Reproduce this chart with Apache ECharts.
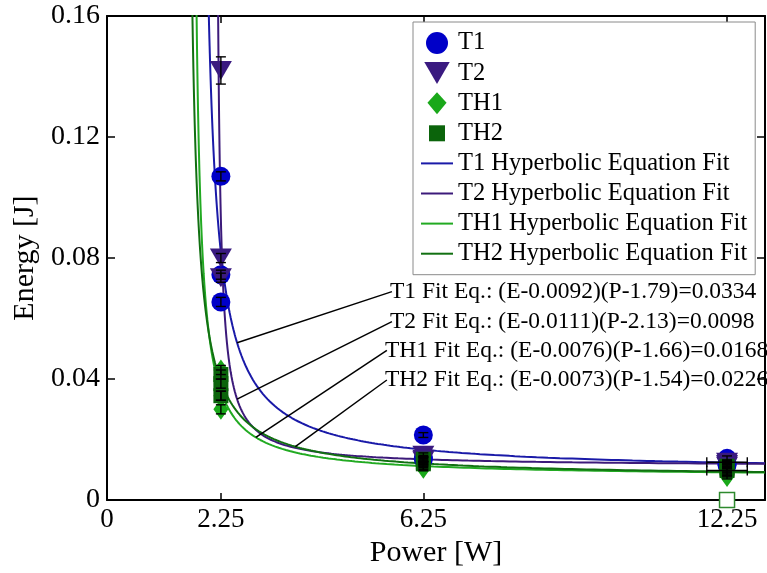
<!DOCTYPE html>
<html>
<head>
<meta charset="utf-8">
<script src="https://cdn.jsdelivr.net/npm/echarts@6/dist/echarts.min.js"></script>
<style>
  html, body { margin: 0; padding: 0; background: #fff; }
  #chart { width: 767px; height: 573px; }
</style>
</head>
<body>
<div id="chart"></div>
<script>
// Measured energy per pulse: [power W, energy J, energy error, power error]
const t1Points = [
  [2.25, 0.107, 0.0015, 0], [2.25, 0.0745, 0.0015, 0], [2.25, 0.0655, 0.0015, 0],
  [6.25, 0.0215, 0.0008, 0], [6.25, 0.0135, 0.0008, 0], [6.25, 0.014, 0.0008, 0],
  [12.25, 0.0138, 0.0008, 0], [12.25, 0.012, 0.0008, 0], [12.25, 0.0115, 0.0008, 0]
];
const t2Points = [
  [2.25, 0.142, 0.0045, 0], [2.25, 0.080, 0.0015, 0], [2.25, 0.0735, 0.0015, 0],
  [6.25, 0.0148, 0.0008, 0], [6.25, 0.0135, 0.0008, 0], [6.25, 0.013, 0.0008, 0],
  [12.25, 0.0125, 0.0008, 0.4], [12.25, 0.0118, 0.0008, 0], [12.25, 0.0112, 0.0008, 0]
];
const th1Points = [
  [2.25, 0.043, 0.0015, 0], [2.25, 0.0345, 0.0015, 0], [2.25, 0.030, 0.0015, 0],
  [6.25, 0.011, 0.0008, 0], [6.25, 0.0105, 0.0008, 0], [6.25, 0.0115, 0.0008, 0],
  [12.25, 0.0085, 0.0008, 0], [12.25, 0.0078, 0.0008, 0], [12.25, 0.009, 0.0008, 0]
];
const th2Points = [
  [2.25, 0.0415, 0.0015, 0], [2.25, 0.0385, 0.0015, 0], [2.25, 0.0345, 0.0015, 0],
  [6.25, 0.0135, 0.0008, 0], [6.25, 0.012, 0.0008, 0], [6.25, 0.0125, 0.0008, 0],
  [12.25, 0.0112, 0.0008, 0], [12.25, 0.0098, 0.0008, 0.4], [12.25, 0.0105, 0.0008, 0]
];
// open marker drawn at zero energy for TH2 at the highest power
const th2OpenPoint = [12.25, 0];

const seriesNames = ['T1', 'T2', 'TH1', 'TH2'];
const fitNames = ['T1 Hyperbolic Equation Fit', 'T2 Hyperbolic Equation Fit',
                  'TH1 Hyperbolic Equation Fit', 'TH2 Hyperbolic Equation Fit'];

// Hyperbolic fit (E - a)(P - b) = c
const fitA = [0.0092, 0.0111, 0.0076, 0.0073];
const fitB = [1.79, 2.13, 1.66, 1.54];
const fitC = [0.0334, 0.0098, 0.0168, 0.0226];

const noteText = [
  'T1 Fit Eq.: (E-0.0092)(P-1.79)=0.0334',
  'T2 Fit Eq.: (E-0.0111)(P-2.13)=0.0098',
  'TH1 Fit Eq.: (E-0.0076)(P-1.66)=0.0168',
  'TH2 Fit Eq.: (E-0.0073)(P-1.54)=0.0226'
];
// where each equation label sits, and the power at which its leader meets the curve
const noteAnchor = [[5.59, 0.0689], [5.59, 0.0590], [5.49, 0.0495], [5.49, 0.0397]];
const noteCurveP = [2.57, 2.57, 2.94, 3.72];

const xTicks = [0, 2.25, 6.25, 12.25];

const markerColors = ['#0000c8', '#3a1a80', '#1aa81a', '#0b640b'];
const lineColors = ['#1a1aa8', '#3c1a7a', '#22aa22', '#117011'];

const FONT = 'Liberation Serif, Times New Roman, serif';

function fitEnergy(i, p) { return fitA[i] + fitC[i] / (p - fitB[i]); }

function fitCurve(i) {
  const pts = [];
  const d0 = fitC[i] / (0.17 - fitA[i]);
  const d1 = 13 - fitB[i];
  const n = 240;
  for (let k = 0; k <= n; k++) {
    const d = d0 * Math.pow(d1 / d0, k / n);
    const p = fitB[i] + d;
    pts.push([p, fitEnergy(i, p)]);
  }
  return pts;
}

const pointSets = [t1Points, t2Points, th1Points, th2Points];
const symbols = ['circle', 'triangle', 'diamond', 'rect'];
const symbolSizes = [19, [22, 19], [15, 21], 15];
const symbolRotate = [0, 180, 0, 0];

const series = [];

fitNames.forEach((name, i) => {
  series.push({
    name: name,
    type: 'line',
    symbol: 'none',
    data: fitCurve(i),
    lineStyle: { color: lineColors[i], width: 2 },
    itemStyle: { color: lineColors[i] },
    z: 2,
    silent: true
  });
});

seriesNames.forEach((name, i) => {
  const data = pointSets[i].map(p => [p[0], p[1]]);
  if (i === 3) {
    data.push({
      value: th2OpenPoint,
      itemStyle: { color: '#ffffff', borderColor: '#2e8a2e', borderWidth: 1.5 }
    });
  }
  series.push({
    name: name,
    type: 'scatter',
    symbol: symbols[i],
    symbolSize: symbolSizes[i],
    symbolRotate: symbolRotate[i],
    data: data,
    itemStyle: { color: markerColors[i], opacity: 1 },
    clip: false,
    z: 3
  });
});

// error bars on every measured point
seriesNames.forEach((name, i) => {
  series.push({
    type: 'custom',
    data: pointSets[i],
    encode: { x: 0, y: 1 },
    z: 4,
    silent: true,
    clip: false,
    renderItem: function (params, api) {
      const x = api.value(0), y = api.value(1), ey = api.value(2), ex = api.value(3);
      const lo = api.coord([x, y - ey]);
      const hi = api.coord([x, y + ey]);
      const style = { stroke: '#000', lineWidth: 1.4 };
      const cap = 5;
      const children = [
        { type: 'line', shape: { x1: lo[0], y1: lo[1], x2: hi[0], y2: hi[1] }, style },
        { type: 'line', shape: { x1: lo[0] - cap, y1: lo[1], x2: lo[0] + cap, y2: lo[1] }, style },
        { type: 'line', shape: { x1: hi[0] - cap, y1: hi[1], x2: hi[0] + cap, y2: hi[1] }, style }
      ];
      if (ex > 0) {
        const l = api.coord([x - ex, y]);
        const r = api.coord([x + ex, y]);
        children.push(
          { type: 'line', shape: { x1: l[0], y1: l[1], x2: r[0], y2: r[1] }, style },
          { type: 'line', shape: { x1: l[0], y1: l[1] - cap, x2: l[0], y2: l[1] + cap }, style },
          { type: 'line', shape: { x1: r[0], y1: r[1] - cap, x2: r[0], y2: r[1] + cap }, style }
        );
      }
      return { type: 'group', children };
    }
  });
});

// fit equation labels with leader lines to their curves
series.push({
  type: 'custom',
  data: noteAnchor.map((a, i) => [a[0], a[1], noteCurveP[i], fitEnergy(i, noteCurveP[i]), i]),
  encode: { x: 0, y: 1 },
  z: 5,
  silent: true,
  clip: false,
  renderItem: function (params, api) {
    const i = api.value(4);
    const a = api.coord([api.value(0), api.value(1)]);
    const b = api.coord([api.value(2), api.value(3)]);
    return {
      type: 'group',
      children: [
        { type: 'line', shape: { x1: a[0] + 2, y1: a[1], x2: b[0], y2: b[1] },
          style: { stroke: '#000', lineWidth: 1.5 } },
        { type: 'text', x: a[0], y: a[1],
          style: { text: noteText[i], fontFamily: FONT, fontSize: 23.5, fill: '#000',
                   align: 'left', verticalAlign: 'middle' } }
      ]
    };
  }
});

const lineIcon = 'path://M0,0H32V2H0Z';
const legendIcons = {
  'T1': 'circle',
  'T2': 'path://M0,0H22L11,19Z',
  'TH1': 'path://M0,0M22,0M11,0L21,11L11,23L1,11Z',
  'TH2': 'path://M0,0M22,22M3,3H19V19H3Z'
};

const option = {
  animation: false,
  backgroundColor: '#ffffff',
  grid: { left: 107, right: 2, top: 16, bottom: 70, containLabel: false },
  legend: {
    orient: 'vertical',
    left: 413,
    top: 22,
    padding: [8.5, 8, 8.5, 8],
    itemWidth: 32,
    itemHeight: 22,
    itemGap: 5.1,
    backgroundColor: '#ffffff',
    borderColor: '#8a8a8a',
    borderWidth: 1,
    borderRadius: 0,
    data: seriesNames.map(n => ({ name: n, icon: legendIcons[n] }))
      .concat(fitNames.map(n => ({ name: n, icon: lineIcon }))),
    textStyle: { fontFamily: FONT, fontSize: 24.5, color: '#000' }
  },
  xAxis: [
    {
      type: 'value', min: 0, max: 13, position: 'bottom',
      name: 'Power [W]', nameLocation: 'middle', nameGap: 30,
      nameTextStyle: { fontFamily: FONT, fontSize: 30, color: '#000' },
      axisLine: { onZero: false, lineStyle: { color: '#000', width: 2 } },
      axisTick: { inside: true, length: 7, customValues: xTicks.slice(1), lineStyle: { color: '#000', width: 1.5 } },
      axisLabel: { customValues: xTicks, fontFamily: FONT, fontSize: 27, color: '#000', margin: 6,
                   showMinLabel: true, showMaxLabel: true },
      splitLine: { show: false }
    },
    {
      type: 'value', min: 0, max: 13, position: 'top',
      axisLine: { onZero: false, lineStyle: { color: '#000', width: 2 } },
      axisTick: { inside: true, length: 7, customValues: xTicks.slice(1), lineStyle: { color: '#000', width: 1.5 } },
      axisLabel: { show: false },
      splitLine: { show: false }
    }
  ],
  yAxis: [
    {
      type: 'value', min: 0, max: 0.16, interval: 0.04, position: 'left',
      name: 'Energy [J]', nameLocation: 'middle', nameGap: 60,
      nameTextStyle: { fontFamily: FONT, fontSize: 30, color: '#000' },
      axisLine: { onZero: false, lineStyle: { color: '#000', width: 2 } },
      axisTick: { inside: true, length: 8, lineStyle: { color: '#000', width: 1.5 } },
      axisLabel: { fontFamily: FONT, fontSize: 28, color: '#000', margin: 7 },
      splitLine: { show: false }
    },
    {
      type: 'value', min: 0, max: 0.16, interval: 0.04, position: 'right',
      axisLine: { onZero: false, lineStyle: { color: '#000', width: 2 } },
      axisTick: { inside: true, length: 8, lineStyle: { color: '#000', width: 1.5 } },
      axisLabel: { show: false },
      splitLine: { show: false }
    }
  ],
  series: series
};

const chart = echarts.init(document.getElementById('chart'), null, { renderer: 'canvas' });
chart.setOption(option);
</script>
</body>
</html>
